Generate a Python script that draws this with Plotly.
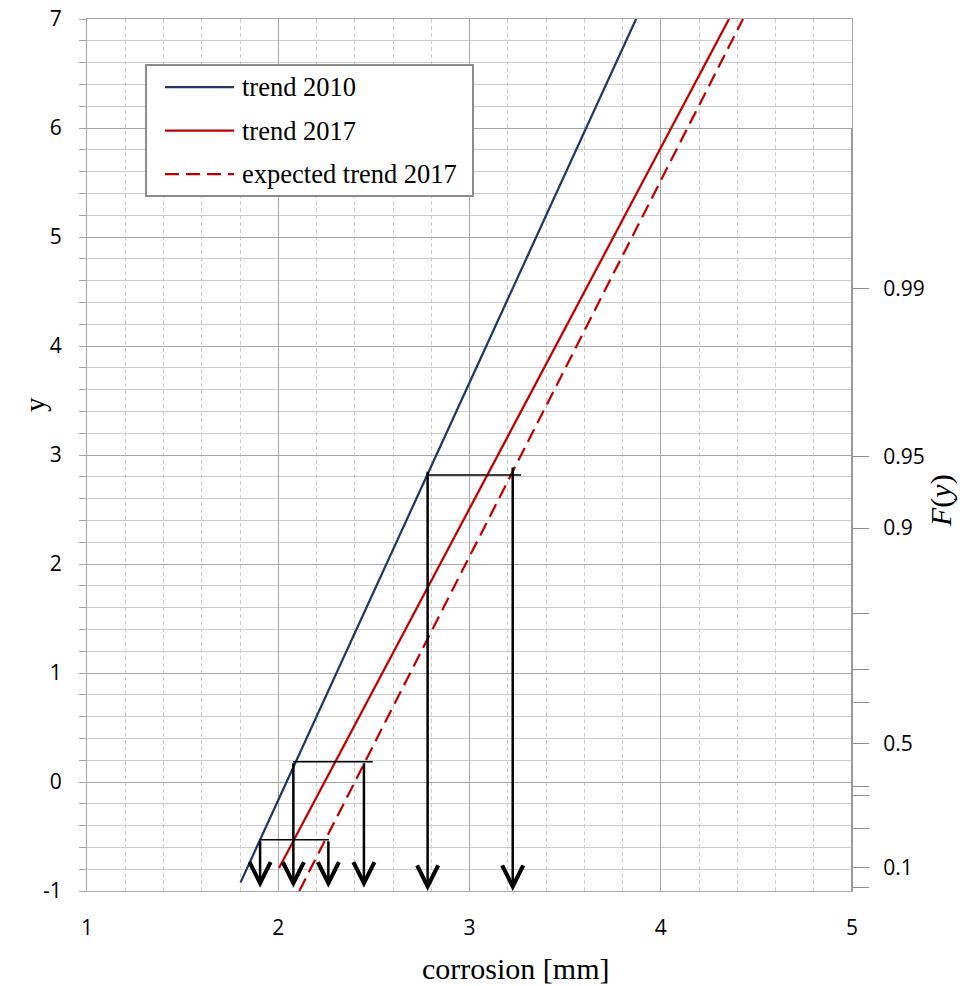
import plotly.graph_objects as go

# ---------------- data ----------------
trend2010_x = [1.803, 3.871]
trend2010_y = [-0.921, 7.0]
trend2017_x = [2.004, 4.357]
trend2017_y = [-0.789, 7.0]
expected2017_x = [2.110, 4.430]
expected2017_y = [-1.0, 7.0]

# horizontal connector lines
conn_y = [-0.53, 0.186, 2.817]
conn_x0 = [1.904, 2.077, 2.781]
conn_x1 = [2.265, 2.494, 3.269]

# vertical arrows
arrow_x = [1.905, 2.079, 2.262, 2.448, 2.781, 3.226]
arrow_top = [-0.53, 0.186, -0.53, 0.186, 2.86, 2.90]
arrow_tip = [-0.97, -0.97, -0.97, -0.97, -1.0, -1.0]

# secondary F(y) axis ticks (positions in y units)
f_pos = [4.523, 2.984, 2.330, 1.548, 1.028, 0.728, 0.355, -0.043, -0.128, -0.431, -0.786, -0.970]
f_labels = ["0.99", "0.95", "0.9", "", "", "", "0.5", "", "", "", "0.1", ""]
f_axis_range = [-1, 6]

x_ticks = [1, 2, 3, 4, 5]
x_labels = ["1", "2", "3", "4", "5"]
y_ticks = [-1, 0, 1, 2, 3, 4, 5, 6, 7]
y_labels = ["-1", "0", "1", "2", "3", "4", "5", "6", "7"]

legend_names = ["trend 2010", "trend 2017", "expected trend 2017"]

# ---------------- styles ----------------
BLUE = "#1F3864"
RED = "#C00000"
GRID_MAJOR = "#a6a6a6"
GRID_MINOR = "#cccccc"
SERIF = "Liberation Serif"
SANS = "Open Sans"
DASH = "14px,7px"

W, H = 972, 986
ML, MT = 87, 19
MR = W - 852
MB = H - 891
PW, PH = W - ML - MR, H - MT - MB


def px(xp):
    return (xp - ML) / PW


def py(yp):
    return (H - MB - yp) / PH


fig = go.Figure()

fig.add_trace(go.Scatter(x=trend2010_x, y=trend2010_y, mode="lines",
                         line=dict(color=BLUE, width=2.25), showlegend=False,
                         hoverinfo="skip"))
fig.add_trace(go.Scatter(x=trend2017_x, y=trend2017_y, mode="lines",
                         line=dict(color=RED, width=2.25), showlegend=False,
                         hoverinfo="skip"))
fig.add_trace(go.Scatter(x=expected2017_x, y=expected2017_y, mode="lines",
                         line=dict(color=RED, width=2.25, dash=DASH),
                         showlegend=False, hoverinfo="skip"))

for yv, x0, x1 in zip(conn_y, conn_x0, conn_x1):
    fig.add_trace(go.Scatter(x=[x0, x1], y=[yv, yv], mode="lines",
                             line=dict(color="black", width=1.5),
                             showlegend=False, hoverinfo="skip"))

# dummy trace to activate secondary axis
fig.add_trace(go.Scatter(x=[None], y=[None], yaxis="y2", showlegend=False,
                         hoverinfo="skip"))

annotations = []
for xa, yt, yb in zip(arrow_x, arrow_top, arrow_tip):
    annotations.append(dict(x=xa, y=yb, ax=xa, ay=yt, xref="x", yref="y",
                            axref="x", ayref="y", text="", showarrow=True,
                            arrowhead=5, arrowsize=1.65, arrowwidth=2.5,
                            arrowcolor="black", standoff=0))

# axis titles
annotations.append(dict(x=px(515), y=py(968), xref="paper", yref="paper",
                        xanchor="center", yanchor="middle",
                        text="corrosion [mm]", showarrow=False,
                        font=dict(family=SERIF, size=30, color="black")))
annotations.append(dict(x=px(35), y=py(405), xref="paper", yref="paper",
                        xanchor="center", yanchor="middle",
                        text="y", showarrow=False, textangle=-90,
                        font=dict(family=SERIF, size=29, color="black")))
annotations.append(dict(x=px(941), y=py(501), xref="paper", yref="paper",
                        xanchor="center", yanchor="middle",
                        text="<i>F</i>(<i>y</i>)", showarrow=False, textangle=-90,
                        font=dict(family=SERIF, size=30, color="black")))

# secondary axis line (only spans the F(y) range)
shapes = [dict(type="line", xref="paper", yref="y",
               x0=1, x1=1, y0=f_axis_range[0], y1=f_axis_range[1],
               line=dict(color="#9a9a9a", width=2), layer="above")]

# manual legend
shapes.append(dict(type="rect", xref="paper", yref="paper",
                   x0=px(146), x1=px(473), y0=py(196), y1=py(65),
                   line=dict(color="#8c8c8c", width=2), fillcolor="white",
                   layer="above"))
leg_rows = [87, 130.5, 174]
leg_styles = [dict(color=BLUE, width=2.25), dict(color=RED, width=2.25),
              dict(color=RED, width=2.25, dash=DASH)]
for name, row, st in zip(legend_names, leg_rows, leg_styles):
    shapes.append(dict(type="line", xref="paper", yref="paper",
                       x0=px(165), x1=px(234), y0=py(row), y1=py(row),
                       line=st, layer="above"))
    annotations.append(dict(x=px(240), y=py(row), xref="paper", yref="paper",
                            text=name, showarrow=False, xanchor="left",
                            yanchor="middle",
                            font=dict(family=SERIF, size=26.5, color="black")))

fig.update_layout(
    width=W, height=H,
    margin=dict(l=ML, r=MR, t=MT, b=MB, autoexpand=False),
    paper_bgcolor="white", plot_bgcolor="white",
    showlegend=False,
    shapes=shapes,
    annotations=annotations,
    xaxis=dict(range=[1, 5], tickvals=x_ticks, ticktext=x_labels, showgrid=True,
               gridcolor=GRID_MAJOR, gridwidth=1,
               minor=dict(dtick=0.2, tick0=1, showgrid=True,
                          gridcolor=GRID_MINOR, griddash="4px,3px"),
               showline=True, linecolor=GRID_MAJOR, linewidth=1, mirror=True,
               zeroline=False, ticks="", ticklabelstandoff=18, automargin=False,
               ticklabeloverflow="allow",
               tickfont=dict(family=SANS, size=21, color="black")),
    yaxis=dict(range=[-1, 7], tickvals=y_ticks, ticktext=y_labels, showgrid=True,
               gridcolor=GRID_MAJOR, gridwidth=1,
               minor=dict(dtick=0.2, tick0=-1, showgrid=True,
                          gridcolor=GRID_MINOR, ticks="outside", ticklen=7,
                          tickcolor=GRID_MAJOR),
               ticks="outside", ticklen=7, tickcolor=GRID_MAJOR,
               showline=True, linecolor=GRID_MAJOR, linewidth=1, mirror=True,
               zeroline=False, ticklabelstandoff=13, automargin=False,
               ticklabeloverflow="allow",
               tickfont=dict(family=SANS, size=21, color="black")),
    yaxis2=dict(overlaying="y", anchor="x", side="right",
                range=[-1, 7], tickvals=f_pos, ticktext=f_labels,
                ticks="outside", ticklen=16, tickcolor="#8c8c8c",
                showline=False, showgrid=False, zeroline=False,
                ticklabelstandoff=10, automargin=False,
                ticklabeloverflow="allow",
                tickfont=dict(family=SANS, size=21, color="black")),
)

fig.write_html("out.html",
               config={"displayModeBar": False},
               post_script="document.body.style.margin='0';"
                           "document.body.style.overflow='hidden';")
